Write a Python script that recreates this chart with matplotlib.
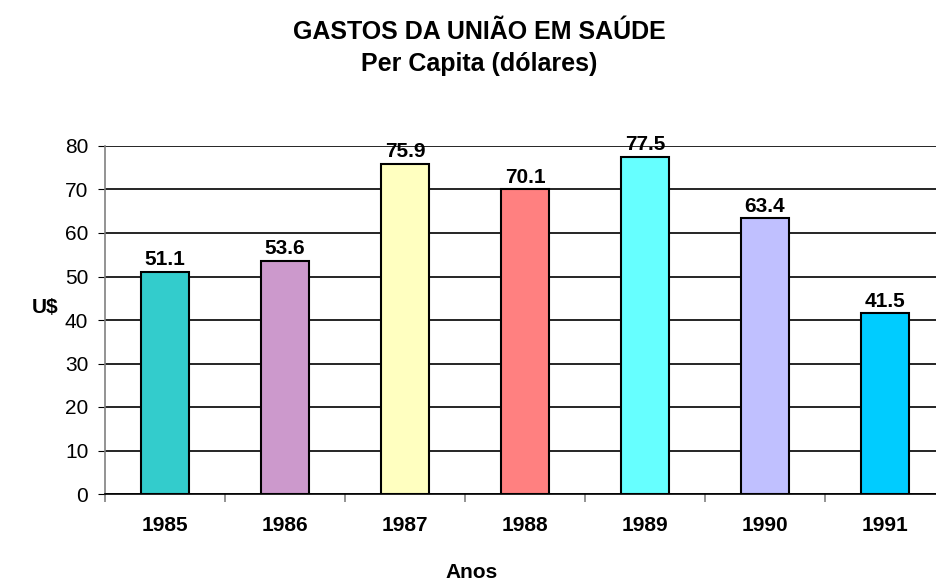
import matplotlib.pyplot as plt
import numpy as np

anos = ['1985', '1986', '1987', '1988', '1989', '1990', '1991']
gastos = [51.1, 53.6, 75.9, 70.1, 77.5, 63.4, 41.5]
cores = ['#33CCCC', '#CC99CC', '#FFFFC0', '#FF8080', '#66FFFF', '#C0C0FF', '#00CCFF']

plt.rcParams['font.family'] = ['Liberation Sans', 'DejaVu Sans']

fig = plt.figure(figsize=(9.36, 5.81), dpi=100)
ax = fig.add_axes([105 / 936, 87 / 581, 840 / 936, 348 / 581])

x = np.arange(len(anos))
ax.bar(x, gastos, width=0.4, color=cores, edgecolor='black', linewidth=1.5, zorder=3)
for xi, v in zip(x, gastos):
    ax.text(xi, v + 1.5, f"{v:.1f}", ha='center', va='baseline', fontsize=15, fontweight='bold')

ax.set_xlim(-0.5, len(anos) - 0.5)
ax.set_ylim(0, 80)
ax.set_yticks(np.arange(0, 81, 10))
ax.tick_params(axis='y', labelsize=15, length=5, color='black', pad=7)
ax.yaxis.grid(True, color='black', linewidth=1.2, zorder=0)

ax.set_xticks(x)
ax.set_xticklabels(anos, fontsize=15, fontweight='bold')
ax.set_xticks(np.arange(-0.5, len(anos)), minor=True)
ax.tick_params(axis='x', which='major', length=0, pad=16)
ax.tick_params(axis='x', which='minor', length=6, color='gray', width=1.2)

for s in ['top', 'right']:
    ax.spines[s].set_visible(False)
ax.spines['left'].set_color('gray')
ax.spines['left'].set_linewidth(1.2)
ax.spines['bottom'].set_color('black')
ax.spines['bottom'].set_linewidth(1.2)

fig.text(479 / 936, 1 - 39 / 581, "GASTOS DA UNIÃO EM SAÚDE", ha='center', va='baseline',
         fontsize=18, fontweight='bold')
fig.text(479 / 936, 1 - 71 / 581, "Per Capita (dólares)", ha='center', va='baseline',
         fontsize=18, fontweight='bold')
fig.text(45 / 936, 1 - 313 / 581, "U$", ha='center', va='baseline', fontsize=15, fontweight='bold')
fig.text(472 / 936, 1 - 578 / 581, "Anos", ha='center', va='baseline', fontsize=15, fontweight='bold')

fig.savefig('out.png', dpi=100)
